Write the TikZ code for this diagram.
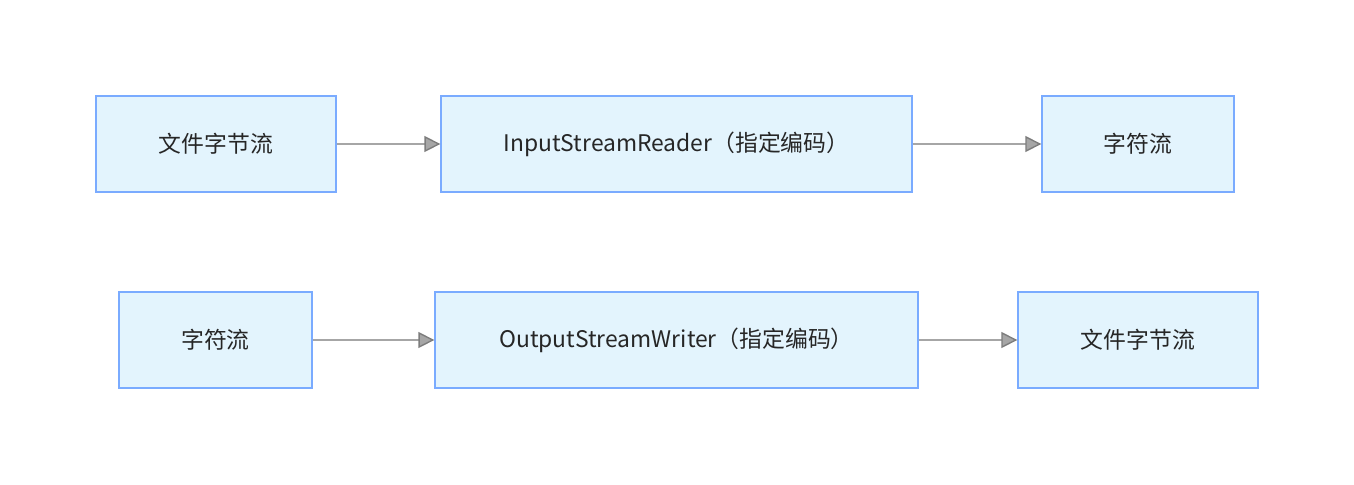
\documentclass[tikz,border=0pt]{standalone}
\usepackage{fontspec}
\setmainfont{Noto Sans CJK SC}
\usetikzlibrary{arrows.meta}
\definecolor{boxfill}{HTML}{E3F4FD}
\definecolor{boxline}{HTML}{7AABFF}
\definecolor{flowline}{HTML}{A6A6A6}
\begin{document}
\begin{tikzpicture}[
    x=0.02cm, y=-0.02cm,
    stream/.style={rectangle, draw=boxline, fill=boxfill, line width=0.8pt, minimum height=1.92cm, font=\fontsize{13pt}{15pt}\selectfont, text=black!85},
    flow/.style={draw=flowline, line width=0.8pt, -{Triangle[length=0.32cm,width=0.32cm,fill=flowline,color=flowline!75!black]}}
]
\useasboundingbox (0,0) rectangle (1354,484);

% Decoding
\node[stream, minimum width=4.8cm] (bytesin) at (216,144) {文件字节流};
\node[stream, minimum width=9.42cm] (reader) at (676.5,144) {InputStreamReader（指定编码）};
\node[stream, minimum width=3.84cm] (charsout) at (1138,144) {字符流};

% Encoding
\node[stream, minimum width=3.86cm] (charsin) at (215.5,340) {字符流};
\node[stream, minimum width=9.66cm] (writer) at (676.5,340) {OutputStreamWriter（指定编码）};
\node[stream, minimum width=4.8cm] (bytesout) at (1138,340) {文件字节流};

\draw[flow] (bytesin) -- (reader);
\draw[flow] (reader) -- (charsout);
\draw[flow] (charsin) -- (writer);
\draw[flow] (writer) -- (bytesout);

\end{tikzpicture}
\end{document}
